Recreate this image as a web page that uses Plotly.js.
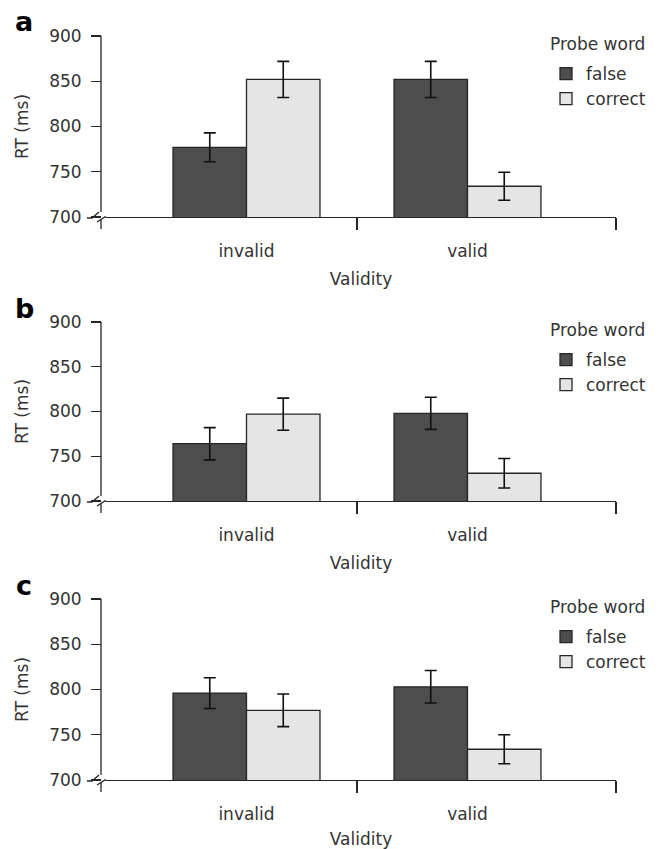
<!DOCTYPE html>
<html>
<head>
<meta charset="utf-8">
<script src="https://cdn.plot.ly/plotly-3.0.1.min.js"></script>
<style>html,body{margin:0;padding:0;background:#fff;}#chart{width:660px;height:849px;}</style>
</head>
<body>
<div id="chart"></div>
<script>
// ---- data ----
const categories = ['invalid', 'valid'];
const seriesNames = ['false', 'correct'];
const panelLetters = ['a', 'b', 'c'];
const yTicks = [700, 750, 800, 850, 900];
const legendTitle = 'Probe word';

const aFalse = [777, 852];
const aFalseErr = [16, 20];
const aCorrect = [852, 734];
const aCorrectErr = [20, 15.5];

const bFalse = [764, 798];
const bFalseErr = [18, 18];
const bCorrect = [797, 731];
const bCorrectErr = [18, 16.5];

const cFalse = [796, 803];
const cFalseErr = [17, 18];
const cCorrect = [777, 734];
const cCorrectErr = [18, 16];

const panelData = [
  [aFalse, aFalseErr, aCorrect, aCorrectErr],
  [bFalse, bFalseErr, bCorrect, bCorrectErr],
  [cFalse, cFalseErr, cCorrect, cCorrectErr]
];

// ---- layout geometry (pixels) ----
const W = 660, H = 849;
const fx = p => p / W;
const fy = p => 1 - p / H;
const panelTop = [36, 322, 599];
const panelBottom = [217, 501, 780];
const axisX = 101;           // y-axis line position
const plotLeft = 106, plotRight = 616;
const pxPerUnit = 221, centerFirst = 246.5;
const xRange = [(plotLeft - centerFirst) / pxPerUnit, (plotRight - centerFirst) / pxPerUnit];

const FONT = 'DejaVu Sans, Liberation Sans, Arial, sans-serif';
const FS = 17;
const TXT = '#333333';
const LINE = '#262626';
const fillColors = ['#4d4d4d', '#e5e5e5'];

const traces = [];
const layout = {
  width: W, height: H,
  margin: {l: 0, r: 0, t: 0, b: 0},
  paper_bgcolor: '#ffffff', plot_bgcolor: 'rgba(0,0,0,0)',
  barmode: 'group', bargap: 0.335, bargroupgap: 0,
  font: {family: FONT, size: FS, color: TXT},
  showlegend: true,
  shapes: [], annotations: []
};

panelData.forEach((pd, i) => {
  const n = i + 1;
  const sfx = n === 1 ? '' : String(n);
  const xa = 'x' + sfx, ya = 'y' + sfx;
  const legendId = 'legend' + sfx;
  [0, 1].forEach(s => {
    traces.push({
      type: 'bar', name: seriesNames[s], x: [0, 1], y: pd[s * 2],
      xaxis: xa, yaxis: ya, legend: legendId,
      marker: {color: fillColors[s], line: {color: LINE, width: 1.3}},
      error_y: {type: 'data', array: pd[s * 2 + 1], visible: true, color: '#111111', thickness: 1.6, width: 6},
      hoverinfo: 'x+y'
    });
  });
  const T = panelTop[i], B = panelBottom[i];
  layout['xaxis' + sfx] = {
    domain: [fx(plotLeft), fx(plotRight)], anchor: ya, range: xRange,
    tickmode: 'array', tickvals: [0, 1], ticktext: categories,
    ticks: 'outside', ticklen: 18, tickcolor: 'rgba(0,0,0,0)',
    tickfont: {family: FONT, size: FS, color: TXT},
    showline: true, linecolor: LINE, linewidth: 1.3,
    showgrid: false, zeroline: false, fixedrange: true,
    minor: {tickmode: 'array', tickvals: [0.5, xRange[1]], ticks: 'outside', ticklen: 12, tickcolor: LINE, tickwidth: 1.3, showgrid: false},
    title: {text: 'Validity', font: {family: FONT, size: FS, color: TXT}, standoff: 13}
  };
  layout['yaxis' + sfx] = {
    domain: [fy(B), fy(T)], anchor: 'free', position: fx(axisX),
    range: [700, 900], tickmode: 'array', tickvals: yTicks,
    ticks: 'outside', ticklen: 10, tickcolor: LINE, tickwidth: 1.3,
    ticklabelstandoff: 6,
    tickfont: {family: FONT, size: FS, color: TXT},
    showline: false, showgrid: false, zeroline: false, fixedrange: true,
    title: {text: 'RT (ms)', font: {family: FONT, size: FS, color: TXT}, standoff: 15}
  };
  layout[legendId] = {
    x: fx(546), y: fy(T + 20), xanchor: 'left', yanchor: 'top',
    bgcolor: 'rgba(0,0,0,0)', borderwidth: 0,
    font: {family: FONT, size: FS, color: TXT},
    traceorder: 'normal', itemclick: false, itemdoubleclick: false
  };
  layout.annotations.push({
    xref: 'paper', yref: 'paper', x: fx(548), y: fy(T + 8), xanchor: 'left', yanchor: 'middle',
    text: legendTitle, showarrow: false, font: {family: FONT, size: FS, color: TXT}
  });
  // y-axis line, stopping at the axis break
  const L = (x0, y0, x1, y1) => ({type: 'line', xref: 'paper', yref: 'paper',
    x0: fx(x0), y0: fy(y0), x1: fx(x1), y1: fy(y1), line: {color: LINE, width: 1.3}});
  layout.shapes.push(L(axisX, T, axisX, B - 5));
  // break marks
  layout.shapes.push({type: 'path', xref: 'paper', yref: 'paper',
    path: `M${fx(axisX - 14)},${fy(B + 1)} L${fx(axisX - 9)},${fy(B + 1)} L${fx(axisX - 2)},${fy(B - 5)}`,
    line: {color: LINE, width: 1.3}});
  layout.shapes.push({type: 'path', xref: 'paper', yref: 'paper',
    path: `M${fx(axisX - 4)},${fy(B + 5)} L${fx(axisX + 4)},${fy(B)} L${fx(plotLeft)},${fy(B)}`,
    line: {color: LINE, width: 1.3}});
  layout.shapes.push(L(axisX, B + 3, axisX, B + 12));
  // panel letter
  layout.annotations.push({
    xref: 'paper', yref: 'paper', x: fx(24), y: fy(T - 14), xanchor: 'center', yanchor: 'middle',
    text: panelLetters[i], showarrow: false,
    font: {family: FONT, size: 27, color: '#000000', weight: 'bold'}
  });
});

Plotly.newPlot('chart', traces, layout, {staticPlot: true, displayModeBar: false});
</script>
</body>
</html>
